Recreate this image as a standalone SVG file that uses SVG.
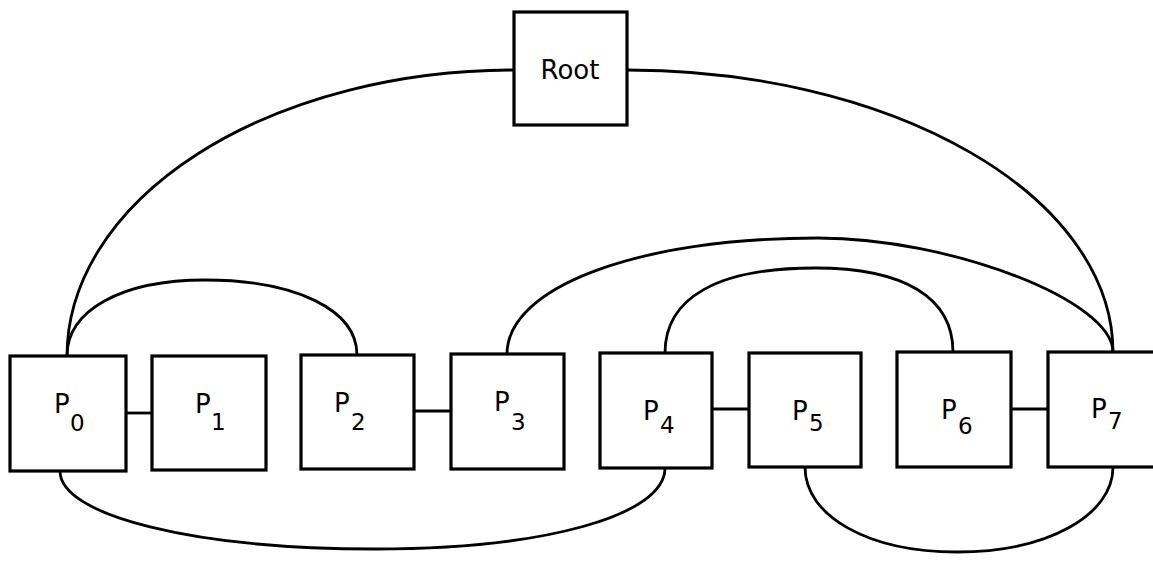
<svg xmlns="http://www.w3.org/2000/svg" width="1153" height="562" viewBox="0 0 1153 562">
  <style>
    .box { fill: #fff; stroke: #000; stroke-width: 3.2; }
    .link { fill: none; stroke: #000; stroke-width: 2.8; }
    .lbl { font-family: "DejaVu Sans", "Liberation Sans", sans-serif; font-size: 26px; fill: #000; }
    .sub { font-family: "DejaVu Sans", "Liberation Sans", sans-serif; font-size: 23px; fill: #000; }
  </style>
  <rect width="1153" height="562" fill="#fff"/>

  <!-- connectors: tree edges (arcs) and ring edges (short straight links) -->
  <g id="connectors" class="link">
    <path d="M514,70 A447,286 0 0 0 67,356"/>
    <path d="M627,70 A486,282 0 0 1 1113,352"/>
    <path d="M67,356 C67,310 122,280 205,280 C296,280 357,310 357,355"/>
    <path d="M507,354 C507,287 638,238 818,238 C951,238 1113,301 1113,352"/>
    <path d="M665,353 C665,298 717,268 815,268 C905,268 953,298 953,352"/>
    <path d="M60,471 C60,516 195,549 375,549 C543,549 665,516 665,468"/>
    <path d="M805,467 C805,516 868,552 957,552 C1048,552 1113,515 1113,467"/>
    <path d="M126,413 H152"/>
    <path d="M414,411 H451"/>
    <path d="M712,409 H749"/>
    <path d="M1011,409 H1048"/>
  </g>

  <g id="root">
    <rect class="box" x="514" y="12" width="113" height="113"/>
    <text class="lbl" x="570" y="79" text-anchor="middle">Root</text>
  </g>
  <g id="p0">
    <rect class="box" x="10" y="356" width="116" height="115"/>
    <text class="lbl" x="54" y="413">P</text><text class="sub" x="70" y="431">0</text>
  </g>
  <g id="p1">
    <rect class="box" x="152" y="356" width="114" height="114"/>
    <text class="lbl" x="195" y="413">P</text><text class="sub" x="211" y="430">1</text>
  </g>
  <g id="p2">
    <rect class="box" x="301" y="355" width="113" height="114"/>
    <text class="lbl" x="334" y="412">P</text><text class="sub" x="351" y="430">2</text>
  </g>
  <g id="p3">
    <rect class="box" x="451" y="354" width="113" height="115"/>
    <text class="lbl" x="494" y="411">P</text><text class="sub" x="511" y="430">3</text>
  </g>
  <g id="p4">
    <rect class="box" x="600" y="353" width="112" height="115"/>
    <text class="lbl" x="643" y="420">P</text><text class="sub" x="660" y="433">4</text>
  </g>
  <g id="p5">
    <rect class="box" x="749" y="353" width="112" height="114"/>
    <text class="lbl" x="792" y="420">P</text><text class="sub" x="809" y="431">5</text>
  </g>
  <g id="p6">
    <rect class="box" x="897" y="352" width="114" height="115"/>
    <text class="lbl" x="941" y="419">P</text><text class="sub" x="958" y="434">6</text>
  </g>
  <g id="p7">
    <rect class="box" x="1048" y="352" width="116" height="115"/>
    <text class="lbl" x="1091" y="418">P</text><text class="sub" x="1108" y="429">7</text>
  </g>
</svg>
